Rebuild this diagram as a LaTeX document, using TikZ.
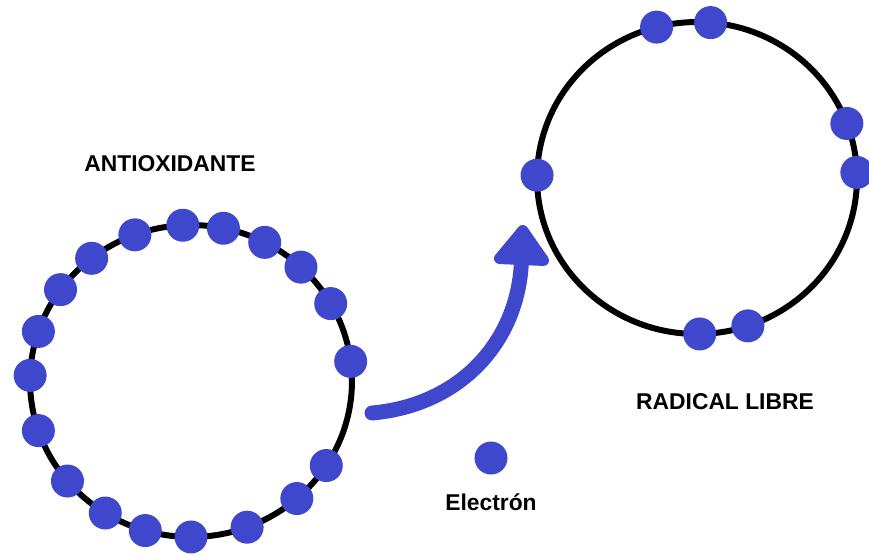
\documentclass[tikz,border=0pt]{standalone}
\usepackage{fontspec}
\setmainfont{Liberation Sans}
\usepackage{xcolor}
\usetikzlibrary{positioning,arrows.meta,shapes.geometric}
\definecolor{indigo}{RGB}{63,72,204}

\begin{document}
\begin{tikzpicture}[
    x=0.02cm, y=-0.02cm,
    ring/.style={ellipse, draw=black, line width=3.4pt, inner sep=0pt, outer sep=0pt},
    electron/.style={circle, fill=indigo, inner sep=0pt, minimum size=0.66cm},
    tag/.style={font=\fontsize{13}{15}\selectfont\bfseries, inner sep=1pt},
    transfer/.style={draw=indigo, line width=8.5pt, line cap=round,
                     -{Triangle[width=36pt, length=25pt, round]}}
]
\useasboundingbox (0,0) rectangle (869,556);

% Rings
\node[ring, minimum width=6.44cm, minimum height=6.24cm] (antiox) at (191,381) {};
\node[ring, minimum width=6.40cm, minimum height=6.24cm] (radical) at (697,178) {};

% Electrons of the antioxidant
\foreach \a [count=\i] in {111,93,78,62,46,29,7,-32,-48,-69,-90,-107,-123,-141,-162,-182,-198,-215,-231}
    \node[electron] (a\i) at (antiox.\a) {};

% Electrons of the free radical
\foreach \a [count=\i] in {105,85,20,2.5,179,-89,-71}
    \node[electron] (r\i) at (radical.\a) {};

% Lone electron
\node[electron] (free) at (491,458) {};

% Labels
\node[tag] (antioxlbl) at (170,164) {ANTIOXIDANTE};
\node[tag] (radicallbl) at (725,402) {RADICAL LIBRE};
\node[tag, below=0.33cm of free] (freelbl) {Electrón};

% Transfer arrow
\coordinate (from) at (372,413);
\coordinate (to) at (523,225);
\draw[transfer] (from) .. controls (462,405) and (518,340) .. (to);

\end{tikzpicture}
\end{document}
